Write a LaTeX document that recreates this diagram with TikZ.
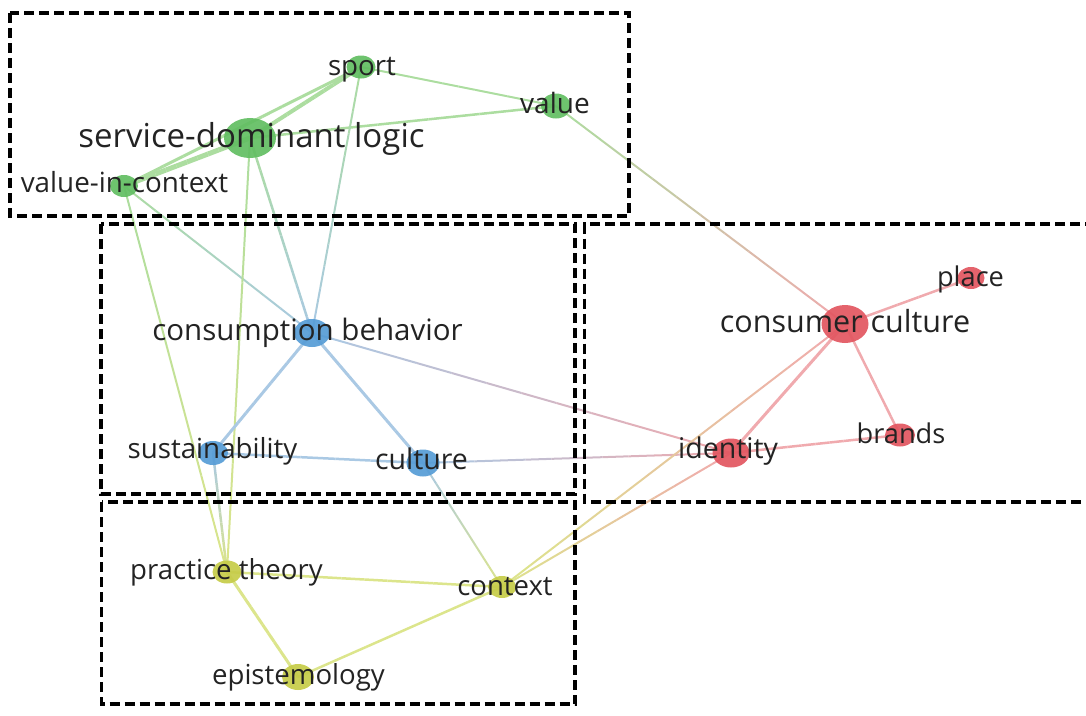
\documentclass[tikz,border=0pt]{standalone}
\usepackage{fontspec}
\setmainfont{Open Sans}
\usetikzlibrary{calc,shapes.geometric}
\pgfdeclarelayer{edges}
\pgfsetlayers{edges,main}

% node colours (clusters) and the lighter tints used by the links
\definecolor{ngreen}{RGB}{98,190,98}
\definecolor{nblue}{RGB}{86,156,214}
\definecolor{nred}{RGB}{226,86,96}
\definecolor{nyellow}{RGB}{198,204,72}
\definecolor{egreen}{RGB}{172,221,160}
\definecolor{eblue}{RGB}{170,201,228}
\definecolor{ered}{RGB}{240,170,174}
\definecolor{eyellow}{RGB}{220,229,140}
\definecolor{labelgray}{RGB}{35,35,35}

% link with a colour gradient: from, to, start colour, end colour, width
\newcommand{\gradedge}[5]{%
  \foreach \k in {0,...,11}{%
    \pgfmathsetmacro{\ka}{\k/12}%
    \pgfmathsetmacro{\kb}{(\k+1)/12}%
    \pgfmathsetmacro{\kc}{100-(\k+0.5)*100/12}%
    \draw[line width=#5, color=#3!\kc!#4]
      ($(#1.center)!\ka!(#2.center)$) -- ($(#1.center)!\kb!(#2.center)$);
  }}

\begin{document}
\begin{tikzpicture}[x=1pt,y=-1pt,
  kw/.style={ellipse, inner sep=0pt, draw=none, opacity=0.92},
  lab/.style={anchor=base, inner sep=0pt, text=labelgray},
  clusterbox/.style={draw=black, line width=3.6pt, dash pattern=on 10pt off 5pt},
]
\useasboundingbox (0,0) rectangle (1086,715);

% ---------- keywords ----------
\node[kw, fill=ngreen, minimum width=52pt, minimum height=40pt] (sdl)   at (250,138) {};
\node[kw, fill=ngreen, minimum width=29pt, minimum height=23pt] (sport) at (361,67) {};
\node[kw, fill=ngreen, minimum width=30pt, minimum height=25pt] (value) at (556,106) {};
\node[kw, fill=ngreen, minimum width=28pt, minimum height=22pt] (vic)   at (124,186) {};

\node[kw, fill=nblue, minimum width=36pt, minimum height=28pt] (cb)      at (312,333) {};
\node[kw, fill=nblue, minimum width=30pt, minimum height=24pt] (sust)    at (213,453) {};
\node[kw, fill=nblue, minimum width=33pt, minimum height=27pt] (culture) at (423,463) {};

\node[kw, fill=nred, minimum width=47pt, minimum height=38pt] (cc)       at (845,324) {};
\node[kw, fill=nred, minimum width=27pt, minimum height=22pt] (place)    at (971,278) {};
\node[kw, fill=nred, minimum width=30pt, minimum height=23pt] (brands)   at (900,435) {};
\node[kw, fill=nred, minimum width=37pt, minimum height=29pt] (identity) at (731,453) {};

\node[kw, fill=nyellow, minimum width=29pt, minimum height=23pt] (pt)      at (227,572) {};
\node[kw, fill=nyellow, minimum width=28pt, minimum height=22pt] (context) at (502,587) {};
\node[kw, fill=nyellow, minimum width=32pt, minimum height=26pt] (epist)   at (298,677) {};

% ---------- labels ----------
\node[lab, font=\fontsize{33}{33}\selectfont]   (sdl-l)   at (251.5,147) {service-dominant logic};
\node[lab, font=\fontsize{27.7}{28}\selectfont] (sport-l) at (362,75.5) {sport};
\node[lab, font=\fontsize{28}{28}\selectfont]   (value-l) at (555,113.5) {value};
\node[lab, font=\fontsize{27.8}{28}\selectfont] (vic-l)   at (124.5,192.5) {value-in-context};

\node[lab, font=\fontsize{29.5}{30}\selectfont] (cb-l)      at (307.5,340) {consumption behavior};
\node[lab, font=\fontsize{27.7}{28}\selectfont] (sust-l)    at (212.5,458.5) {sustainability};
\node[lab, font=\fontsize{28.5}{29}\selectfont] (culture-l) at (421.5,469.7) {culture};

\node[lab, font=\fontsize{30.5}{31}\selectfont] (cc-l)       at (845,332) {consumer culture};
\node[lab, font=\fontsize{27.2}{28}\selectfont] (place-l)    at (970.5,286.3) {place};
\node[lab, font=\fontsize{27.2}{28}\selectfont] (brands-l)   at (901,443) {brands};
\node[lab, font=\fontsize{28.5}{29}\selectfont] (identity-l) at (728,458) {identity};

\node[lab, font=\fontsize{27.6}{28}\selectfont] (pt-l)      at (226.5,579) {practice theory};
\node[lab, font=\fontsize{27.5}{28}\selectfont] (context-l) at (505,595) {context};
\node[lab, font=\fontsize{27.6}{28}\selectfont] (epist-l)   at (298.5,684.5) {epistemology};

% ---------- links ----------
\begin{pgfonlayer}{edges}
  \gradedge{sdl}{sport}{egreen}{egreen}{4pt}
  \gradedge{vic}{sport}{egreen}{egreen}{3pt}
  \gradedge{sdl}{vic}{egreen}{egreen}{5pt}
  \gradedge{sdl}{value}{egreen}{egreen}{2.5pt}
  \gradedge{sport}{value}{egreen}{egreen}{2pt}
  \gradedge{value}{cc}{egreen}{ered}{2pt}
  \gradedge{sdl}{cb}{egreen}{eblue}{2.5pt}
  \gradedge{sport}{cb}{egreen}{eblue}{2pt}
  \gradedge{vic}{cb}{egreen}{eblue}{2pt}
  \gradedge{sdl}{pt}{egreen}{eyellow}{2pt}
  \gradedge{vic}{pt}{egreen}{eyellow}{2pt}
  \gradedge{cb}{sust}{eblue}{eblue}{3pt}
  \gradedge{cb}{culture}{eblue}{eblue}{3pt}
  \gradedge{sust}{culture}{eblue}{eblue}{2.5pt}
  \gradedge{cb}{identity}{eblue}{ered}{2pt}
  \gradedge{culture}{identity}{eblue}{ered}{2pt}
  \gradedge{sust}{pt}{eblue}{eyellow}{2.5pt}
  \gradedge{culture}{context}{eblue}{eyellow}{2pt}
  \gradedge{pt}{context}{eyellow}{eyellow}{2.5pt}
  \gradedge{pt}{epist}{eyellow}{eyellow}{3pt}
  \gradedge{epist}{context}{eyellow}{eyellow}{2.5pt}
  \gradedge{context}{identity}{eyellow}{ered}{2pt}
  \gradedge{context}{cc}{eyellow}{ered}{2pt}
  \gradedge{identity}{cc}{ered}{ered}{3pt}
  \gradedge{identity}{brands}{ered}{ered}{2.5pt}
  \gradedge{cc}{brands}{ered}{ered}{2.5pt}
  \gradedge{cc}{place}{ered}{ered}{2.5pt}
\end{pgfonlayer}

% ---------- cluster frames ----------
\draw[clusterbox] (10,13) rectangle (629,216);
\draw[clusterbox] (101,224) rectangle (575,494);
\draw[clusterbox] (1095,224) -- (584.5,224) -- (584.5,502) -- (1095,502);
\draw[clusterbox] (101.5,502) rectangle (575,704);
\end{tikzpicture}
\end{document}
